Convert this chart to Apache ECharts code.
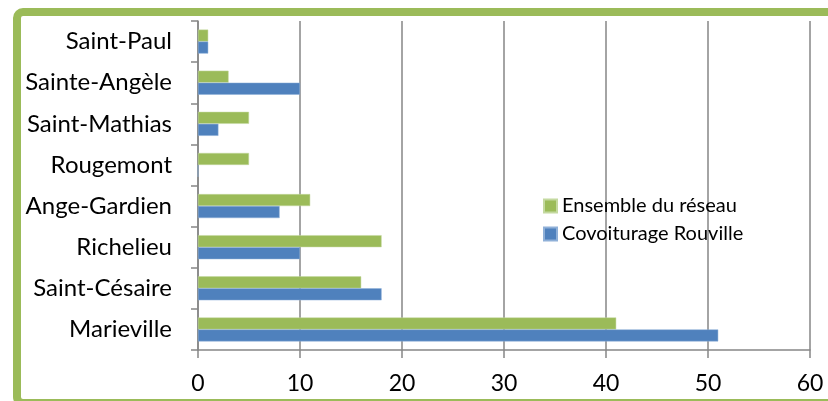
<!DOCTYPE html>
<html>
<head>
<meta charset="utf-8">
<script src="https://cdn.jsdelivr.net/npm/echarts@6/dist/echarts.min.js"></script>
<style>
  html, body { margin: 0; padding: 0; background: #ffffff; }
  #chart { width: 828px; height: 401px; }
</style>
</head>
<body>
<div id="chart"></div>
<script>
// Municipalities, listed bottom to top
const categories = ['Marieville', 'Saint-Césaire', 'Richelieu', 'Ange-Gardien', 'Rougemont', 'Saint-Mathias', 'Sainte-Angèle', 'Saint-Paul'];
const ensembleReseau = [41, 16, 18, 11, 5, 5, 3, 1];
const covoiturageRouville = [51, 18, 10, 8, 0, 2, 10, 1];
const xTicks = [0, 10, 20, 30, 40, 50, 60];

const FONT = 'Lato, "Open Sans", sans-serif';
const GREEN = '#9BBB59';
const BLUE = '#4F81BD';
const GRID_GRAY = '#868686';

const chart = echarts.init(document.getElementById('chart'), null, { renderer: 'canvas' });

chart.setOption({
  backgroundColor: '#ffffff',
  animation: false,
  graphic: [{
    type: 'rect',
    shape: { x: 17, y: 12, width: 900, height: 391, r: 6 },
    style: { fill: 'none', stroke: GREEN, lineWidth: 8 },
    silent: true,
    z: 100
  }],
  legend: {
    orient: 'vertical',
    left: 543,
    top: 196,
    padding: 0,
    itemWidth: 13,
    itemHeight: 13,
    itemGap: 8,
    icon: 'rect',
    data: ['Ensemble du réseau', 'Covoiturage Rouville'],
    textStyle: { fontFamily: FONT, fontSize: 20, color: '#000000' }
  },
  grid: { left: 198, right: 18, top: 21, bottom: 51, containLabel: false },
  xAxis: {
    type: 'value',
    min: xTicks[0],
    max: xTicks[xTicks.length - 1],
    interval: 10,
    axisLine: { show: true, lineStyle: { color: GRID_GRAY, width: 1.5 } },
    axisTick: { show: true, length: 8, lineStyle: { color: GRID_GRAY, width: 1.5 } },
    splitLine: { show: true, lineStyle: { color: GRID_GRAY, width: 1.5 } },
    axisLabel: { fontFamily: FONT, fontSize: 23, color: '#000000', margin: 22 }
  },
  yAxis: {
    type: 'category',
    data: categories,
    axisLine: { show: true, lineStyle: { color: GRID_GRAY, width: 1.5 } },
    axisTick: { show: true, length: 7, lineStyle: { color: GRID_GRAY, width: 1.5 } },
    axisLabel: { fontFamily: FONT, fontSize: 24, color: '#000000', margin: 26 }
  },
  series: [
    {
      name: 'Ensemble du réseau',
      type: 'bar',
      data: ensembleReseau,
      barWidth: 12,
      barGap: '0%',
      itemStyle: { color: GREEN, borderColor: '#c4d9a0', borderWidth: 0.5 }
    },
    {
      name: 'Covoiturage Rouville',
      type: 'bar',
      data: covoiturageRouville,
      barWidth: 12,
      barGap: '0%',
      itemStyle: { color: BLUE, borderColor: '#8fb0d8', borderWidth: 0.5 }
    }
  ]
});
</script>
</body>
</html>
